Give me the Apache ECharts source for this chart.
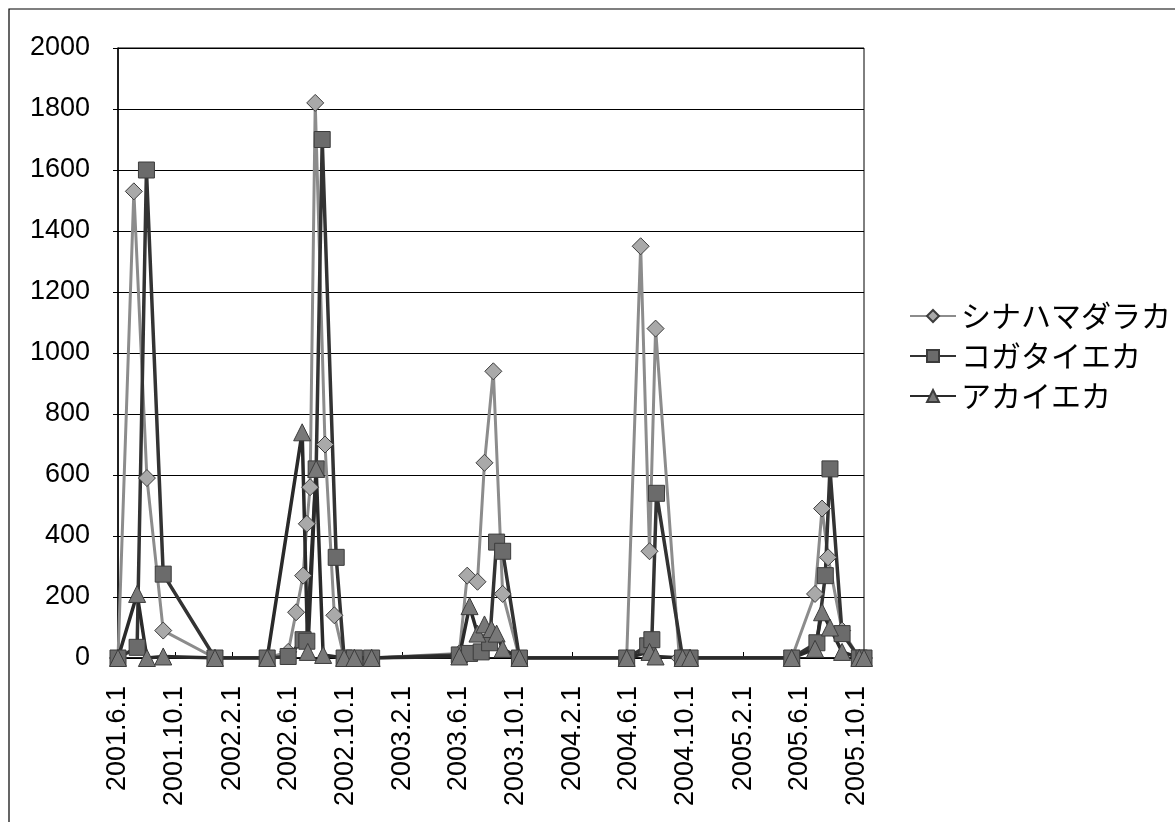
<!DOCTYPE html>
<html lang="ja">
<head>
<meta charset="utf-8">
<title>蚊の捕集数の推移</title>
<script src="https://cdn.jsdelivr.net/npm/echarts@6.0.0/dist/echarts.min.js"></script>
<style>
  html, body { margin: 0; padding: 0; background: #fff; }
  #chart { width: 1175px; height: 822px; }
</style>
</head>
<body>
<div id="chart"></div>
<script>
// 目盛りラベル（4か月ごと）
const tickDates = [
  '2001-06-01', '2001-10-01', '2002-02-01', '2002-06-01', '2002-10-01',
  '2003-02-01', '2003-06-01', '2003-10-01', '2004-02-01', '2004-06-01',
  '2004-10-01', '2005-02-01', '2005-06-01', '2005-10-01',
]
const axisStart = '2001-06-01'
const axisEnd = '2005-10-18'

const seriesNames = ['シナハマダラカ', 'コガタイエカ', 'アカイエカ']

// シナハマダラカ
const shinaDates = [
  '2001-06-01', '2001-07-05', '2001-08-02', '2001-09-06', '2001-12-26',
  '2002-04-17', '2002-06-01', '2002-06-18', '2002-07-03', '2002-07-11', '2002-07-18',
  '2002-07-29', '2002-08-19', '2002-09-08', '2002-09-29', '2002-10-21', '2002-11-27',
  '2003-06-03', '2003-06-20', '2003-07-12', '2003-07-27', '2003-08-15', '2003-09-04', '2003-10-10',
  '2004-05-27', '2004-06-26', '2004-07-15', '2004-07-28', '2004-09-17', '2004-10-10',
  '2005-05-16', '2005-07-05', '2005-07-20', '2005-08-02', '2005-09-01', '2005-10-08', '2005-10-18',
]
const shinaValues = [
  0, 1530, 590, 90, 0,
  0, 20, 150, 270, 440, 560,
  1820, 700, 140, 0, 0, 0,
  15, 270, 250, 640, 940, 210, 0,
  0, 1350, 350, 1080, 0, 0,
  0, 210, 490, 330, 90, 0, 0,
]

// コガタイエカ
const kogaDates = [
  '2001-06-01', '2001-07-12', '2001-08-01', '2001-09-06', '2001-12-26',
  '2002-04-17', '2002-06-01', '2002-07-03', '2002-07-11', '2002-07-31',
  '2002-08-13', '2002-09-12', '2002-09-29', '2002-10-21', '2002-11-27',
  '2003-06-03', '2003-06-25', '2003-07-20', '2003-08-07', '2003-08-22', '2003-09-04', '2003-10-10',
  '2004-05-27', '2004-07-11', '2004-07-20', '2004-07-30', '2004-09-24', '2004-10-10',
  '2005-05-16', '2005-07-09', '2005-07-27', '2005-08-06', '2005-09-01', '2005-10-08', '2005-10-18',
]
const kogaValues = [
  0, 35, 1600, 275, 0,
  0, 5, 60, 55, 620,
  1700, 330, 0, 0, 0,
  10, 15, 20, 50, 380, 350, 0,
  0, 40, 60, 540, 0, 0,
  0, 50, 270, 620, 80, 0, 0,
]

// アカイエカ
const akaDates = [
  '2001-06-01', '2001-07-12', '2001-08-02', '2001-09-06', '2001-12-26',
  '2002-04-17', '2002-07-01', '2002-07-13', '2002-07-31', '2002-08-15',
  '2002-09-29', '2002-10-21', '2002-11-27',
  '2003-06-03', '2003-06-25', '2003-07-12', '2003-07-27', '2003-08-11', '2003-08-22', '2003-09-04', '2003-10-10',
  '2004-05-27', '2004-07-15', '2004-07-28', '2004-09-24', '2004-10-10',
  '2005-05-16', '2005-07-05', '2005-07-20', '2005-08-06', '2005-09-01', '2005-10-08', '2005-10-18',
]
const akaValues = [
  0, 210, 0, 5, 0,
  0, 740, 20, 620, 10,
  0, 0, 0,
  5, 170, 80, 110, 95, 80, 30, 0,
  0, 20, 5, 0, 0,
  0, 30, 150, 100, 20, 0, 0,
]

// 'YYYY-MM-DD' をローカル時刻のタイムスタンプに
const toTime = (s) => {
  const [y, m, d] = s.split('-').map(Number)
  return new Date(y, m - 1, d).getTime()
}
const zip = (dates, values) => dates.map((d, i) => [toTime(d), values[i]])

const fontLatin = '"Liberation Sans", Arial, sans-serif'
const fontJa = '"Noto Sans CJK JP", sans-serif'

const makeSeries = (name, data, symbol, size, markColor, lineColor, lineWidth) => ({
  name,
  type: 'line',
  data,
  symbol,
  symbolSize: size,
  showAllSymbol: true,
  itemStyle: { color: markColor, borderColor: '#3c3c3c', borderWidth: 1 },
  lineStyle: { color: lineColor, width: lineWidth },
  emphasis: { disabled: true },
})

const myChart = echarts.init(document.getElementById('chart'))
const tickValues = tickDates.map(toTime)

const option = {
  animation: false,
  backgroundColor: '#fff',
  // グラフ全体の枠
  graphic: [{
    type: 'rect',
    shape: { x: 9, y: 9, width: 1300, height: 1000 },
    style: { fill: 'none', stroke: '#000', lineWidth: 1.2 },
    silent: true,
  }],
  grid: {
    left: 118, right: 311, top: 48, bottom: 164,
    show: true, borderColor: '#000', borderWidth: 1,
    outerBoundsMode: 'none',
  },
  legend: {
    orient: 'vertical',
    left: 904, top: 296,
    itemWidth: 46, itemHeight: 15, itemGap: 10,
    textStyle: { fontFamily: fontJa, fontSize: 30, color: '#000', lineHeight: 30 },
    data: seriesNames,
  },
  // 日付軸（タイムスタンプを値軸で扱う）
  xAxis: {
    type: 'value',
    min: toTime(axisStart),
    max: toTime(axisEnd),
    splitLine: { show: false },
    axisLine: { lineStyle: { color: '#000', width: 1.5 } },
    axisTick: { show: true, inside: true, length: 6, customValues: tickValues, lineStyle: { color: '#000' } },
    axisLabel: {
      customValues: tickValues,
      rotate: 90,
      margin: 28,
      fontSize: 27,
      fontFamily: fontLatin,
      color: '#000',
      hideOverlap: false,
      formatter: (v) => {
        const d = new Date(v)
        return d.getFullYear() + '.' + (d.getMonth() + 1) + '.' + d.getDate()
      },
    },
  },
  yAxis: {
    type: 'value',
    min: 0, max: 2000, interval: 200,
    axisLine: { show: true, lineStyle: { color: '#000', width: 1.5 } },
    axisTick: { show: true, length: 5, lineStyle: { color: '#000' } },
    splitLine: { lineStyle: { color: '#000', width: 1 } },
    axisLabel: {
      margin: 28, fontSize: 27, fontFamily: fontLatin, color: '#000',
      formatter: (v) => String(v),
    },
  },
  series: [
    makeSeries(seriesNames[0], zip(shinaDates, shinaValues), 'diamond', 17, '#a9a9a9', '#8c8c8c', 3),
    makeSeries(seriesNames[1], zip(kogaDates, kogaValues), 'rect', 16, '#6b6b6b', '#333333', 3.5),
    makeSeries(seriesNames[2], zip(akaDates, akaValues), 'triangle', 17, '#787878', '#2a2a2a', 3.5),
  ],
}

myChart.setOption(option)
</script>
</body>
</html>
